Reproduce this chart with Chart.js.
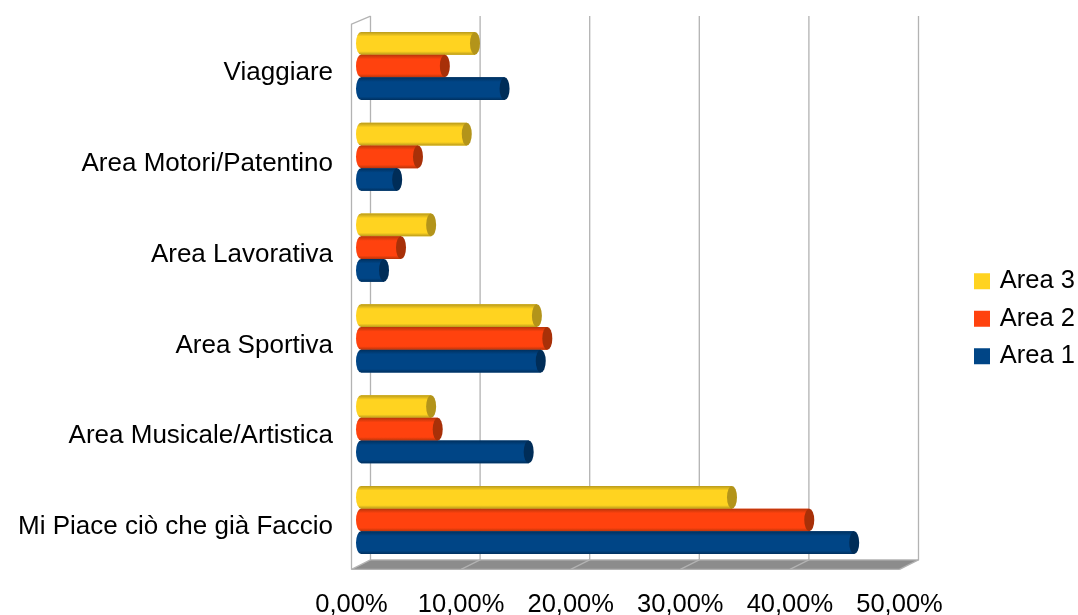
<!DOCTYPE html>
<html>
<head>
<meta charset="utf-8">
<style>
html, body { margin: 0; padding: 0; background: #fff; }
canvas { display: block; }
</style>
<script src="https://cdn.jsdelivr.net/npm/chart.js@4"></script>
</head>
<body>
<canvas id="chart" width="1078" height="615"></canvas>
<script>
const categories = ['Viaggiare', 'Area Motori/Patentino', 'Area Lavorativa', 'Area Sportiva', 'Area Musicale/Artistica', 'Mi Piace ciò che già Faccio'];
const area3 = [10.4, 9.65, 6.4, 16.05, 6.4, 33.85];
const area2 = [7.65, 5.2, 3.65, 17.0, 7.0, 40.9];
const area1 = [13.1, 3.3, 2.1, 16.4, 15.3, 45.0];

const yellow = '#ffd320', red = '#ff420e', blue = '#004586';
const capColors = { [yellow]: '#b3941a', [red]: '#a83008', [blue]: '#002d58' };
const edgeColors = { [yellow]: '#b89a1c', [red]: '#b8350a', [blue]: '#00305e' };
const font = 'Liberation Sans';

// 3d box behind the bars: back wall is shifted right/up, floor comes forward
const depthX = 9.5, depthY = 5;
const wallPlugin = {
    id: 'wall',
    beforeDatasetsDraw(chart) {
        const ctx = chart.ctx;
        const x = chart.scales.x;
        const a = chart.chartArea;
        const backTop = a.top - 4.5, backBottom = a.bottom - depthY - 0.5, frontBottom = a.bottom + 4;
        const x0 = x.getPixelForValue(0), x50 = x.getPixelForValue(50);

        ctx.save();
        ctx.fillStyle = '#8c8c8c';
        ctx.beginPath();
        ctx.moveTo(x0 - depthX, frontBottom);
        ctx.lineTo(x50 - depthX, frontBottom);
        ctx.lineTo(x50 + depthX, backBottom);
        ctx.lineTo(x0 + depthX, backBottom);
        ctx.closePath();
        ctx.fill();

        ctx.lineWidth = 1.3;
        ctx.strokeStyle = '#b3b3b3';
        x.ticks.forEach(t => {
            const px = x.getPixelForValue(t.value);
            ctx.beginPath();
            ctx.moveTo(px + depthX, backTop);
            ctx.lineTo(px + depthX, backBottom);
            ctx.lineTo(px - depthX, frontBottom);
            ctx.stroke();
        });
        // back wall bottom edge, front floor edge, left wall
        ctx.beginPath();
        ctx.moveTo(x0 + depthX, backBottom);
        ctx.lineTo(x50 + depthX, backBottom);
        ctx.moveTo(x0 - depthX, frontBottom);
        ctx.lineTo(x50 - depthX, frontBottom);
        ctx.moveTo(x0 - depthX, frontBottom);
        ctx.lineTo(x0 - depthX, backTop + 8);
        ctx.lineTo(x0 + depthX, backTop);
        ctx.stroke();
        ctx.restore();
    }
};

// paints each bar as a cylinder, using the geometry chart.js worked out
const cylinderPlugin = {
    id: 'cylinder',
    afterDatasetsDraw(chart) {
        const ctx = chart.ctx;
        chart.data.datasets.forEach((ds, i) => {
            const color = ds.backgroundColor;
            chart.getDatasetMeta(i).data.forEach(bar => {
                const p = bar.getProps(['x', 'y', 'base', 'height'], true);
                const top = p.y - p.height / 2, bottom = p.y + p.height / 2;
                const r = p.height / 2;
                const g = ctx.createLinearGradient(0, top, 0, bottom);
                g.addColorStop(0, edgeColors[color]);
                g.addColorStop(0.2, color);
                g.addColorStop(0.85, color);
                g.addColorStop(1, edgeColors[color]);
                ctx.save();
                ctx.fillStyle = g;
                ctx.beginPath();
                ctx.ellipse(p.base, p.y, 5, r, 0, Math.PI / 2, Math.PI * 1.5);
                ctx.lineTo(p.x, top);
                ctx.lineTo(p.x, bottom);
                ctx.closePath();
                ctx.fill();
                ctx.fillStyle = capColors[color];
                ctx.beginPath();
                ctx.ellipse(p.x, p.y, 5, r, 0, 0, Math.PI * 2);
                ctx.fill();
                ctx.restore();
            });
        });
    }
};

// legend sits in the far right of the free space, not right next to the plot
const legendShift = {
    id: 'legendShift',
    afterLayout(chart) {
        const l = chart.legend;
        const dx = 56, dy = 1;
        l.left += dx;
        l.right += dx;
        l.top += dy;
        l.bottom += dy;
        l.legendHitBoxes.forEach(b => { b.left += dx; b.top += dy; });
    }
};

new Chart(document.getElementById('chart'), {
    type: 'bar',
    data: {
        labels: categories,
        datasets: [
            { label: 'Area 3', data: area3, backgroundColor: yellow, borderWidth: 0 },
            { label: 'Area 2', data: area2, backgroundColor: red, borderWidth: 0 },
            { label: 'Area 1', data: area1, backgroundColor: blue, borderWidth: 0 }
        ]
    },
    plugins: [wallPlugin, cylinderPlugin, legendShift],
    options: {
        indexAxis: 'y',
        responsive: false,
        animation: false,
        barPercentage: 1,
        categoryPercentage: 0.75,
        scales: {
            x: {
                min: 0,
                max: 50,
                grid: { display: false },
                border: { display: false },
                ticks: {
                    stepSize: 10,
                    autoSkip: false,
                    maxRotation: 0,
                    padding: 16,
                    labelOffset: -9.5,
                    color: '#000',
                    font: { family: font, size: 25.5 },
                    callback: v => v.toFixed(2).replace('.', ',') + '%'
                },
                afterFit(scale) {
                    scale.height = 49.6;
                    scale.paddingRight = 169;
                    scale.paddingLeft = 0;
                }
            },
            y: {
                grid: { display: false },
                border: { display: false },
                ticks: {
                    padding: 20,
                    labelOffset: 7,
                    autoSkip: false,
                    color: '#000',
                    font: { family: font, size: 26 }
                },
                afterFit(scale) {
                    scale.width = 361;
                    scale.paddingTop = 0;
                    scale.paddingBottom = 0;
                }
            }
        },
        layout: { padding: { top: 20.6 } },
        plugins: {
            tooltip: { enabled: false },
            legend: {
                position: 'right',
                labels: {
                    boxWidth: 10,
                    boxHeight: 10,
                    padding: 12,
                    color: '#000',
                    font: { family: font, size: 25.5 },
                    generateLabels(chart) {
                        return Chart.defaults.plugins.legend.labels.generateLabels(chart).map(item => {
                            item.lineWidth = 6;
                            item.strokeStyle = item.fillStyle;
                            return item;
                        });
                    }
                }
            }
        }
    }
});
</script>
</body>
</html>
